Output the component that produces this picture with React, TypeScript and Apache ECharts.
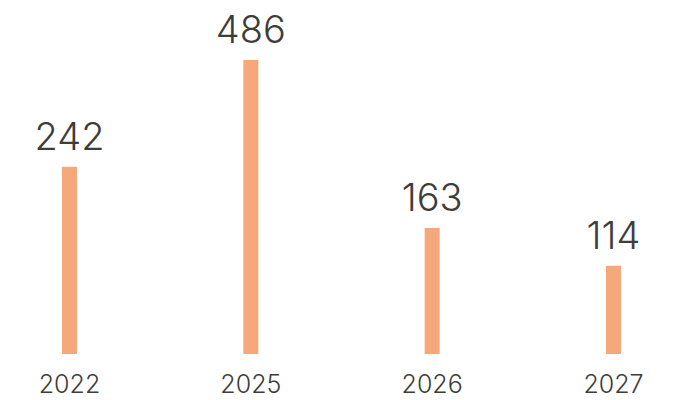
import React, { useEffect, useRef } from "react";
import * as echarts from "echarts";

const categories = ["2022", "2025", "2026", "2027"];
const values = [242, 486, 163, 114];
const axisMax = 380;

const FONT = "Inter, 'Open Sans', 'Noto Sans', sans-serif";

export default function App() {
  const ref = useRef<HTMLDivElement>(null);
  useEffect(() => {
    document.body.style.margin = "0";
    if (!ref.current) return;
    const chart = echarts.init(ref.current, null, { renderer: "svg" });
    chart.setOption({
      animation: false,
      backgroundColor: "#ffffff",
      grid: { left: 69.5, right: 64.5, top: 60, bottom: 46, containLabel: false },
      xAxis: {
        type: "category",
        data: categories,
        boundaryGap: false,
        axisLine: { show: false },
        axisTick: { show: false },
        splitLine: { show: false },
        axisLabel: {
          margin: 17,
          fontSize: 25,
          fontWeight: 300,
          fontFamily: FONT,
          color: "#3d3d3a",
        },
      },
      yAxis: {
        type: "value",
        min: 0,
        max: axisMax,
        show: false,
        splitLine: { show: false },
      },
      series: [
        {
          type: "bar",
          data: values,
          barWidth: 15,
          clip: true,
          itemStyle: { color: "#F7A77C" },
          label: {
            show: true,
            position: "top",
            distance: 12,
            fontSize: 38,
            fontWeight: 300,
            fontFamily: FONT,
            color: "#3d3d3a",
          },
        },
      ],
    });
    return () => chart.dispose();
  }, []);
  return <div ref={ref} style={{ width: 678, height: 400 }} />;
}
